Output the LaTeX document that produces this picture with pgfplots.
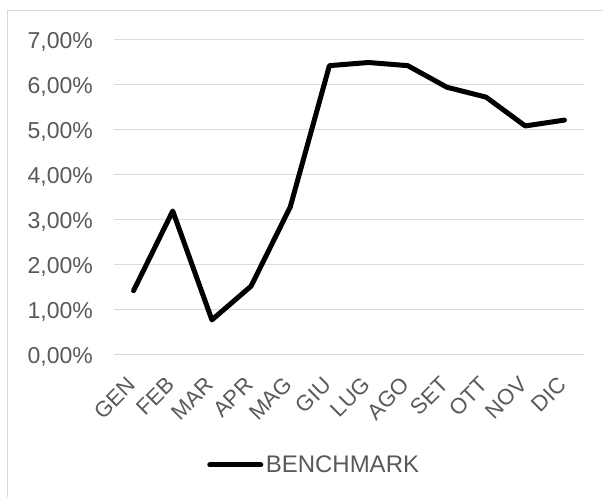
\documentclass[border=0pt]{standalone}
\usepackage{fontspec}
\setmainfont{Liberation Sans}
\usepackage{pgfplots}
\pgfplotsset{compat=1.18}
\definecolor{txt}{RGB}{89,89,89}
\definecolor{grd}{RGB}{217,217,217}
\begin{document}
\begin{tikzpicture}
\useasboundingbox (0,0) rectangle (603pt,497pt);
\draw[grd, line width=1pt] (7pt,0pt) -- (7pt,486pt) -- (603pt,486pt);
\begin{axis}[
  at={(114pt,142pt)}, anchor=south west,
  scale only axis, width=470pt, height=315pt,
  xmin=-0.5, xmax=11.5, ymin=0, ymax=7,
  axis line style={draw=none},
  major tick length=0pt,
  xtick={0,...,11},
  xticklabels={GEN,FEB,MAR,APR,MAG,GIU,LUG,AGO,SET,OTT,NOV,DIC},
  ytick={0,1,2,3,4,5,6,7},
  yticklabels={0{,}00\%,1{,}00\%,2{,}00\%,3{,}00\%,4{,}00\%,5{,}00\%,6{,}00\%,7{,}00\%},
  ymajorgrids, major grid style={grd, line width=1pt},
  tick label style={text=txt, inner sep=0pt},
  yticklabel style={font=\fontsize{23}{27}\selectfont, anchor=base east, xshift=-21pt, yshift=-8.2pt},
  xticklabel style={font=\fontsize{22}{26}\selectfont, anchor=east, xshift=-2pt, yshift=-26pt, rotate=45},
  legend style={draw=none, fill=none, at={(0.198,-0.349)}, anchor=west, inner sep=0pt,
    font=\fontsize{24}{28}\selectfont, text=txt,
    nodes={inner xsep=2.5pt, inner ysep=0pt}},
  legend image code/.code={\draw[line width=5pt, line cap=round, black] (2.5pt,0pt) -- (53.5pt,0pt);},
]
\addplot[black, line width=5pt, line join=round, line cap=round] coordinates {
 (0,1.43) (1,3.20) (2,0.78) (3,1.53) (4,3.29) (5,6.43)
 (6,6.50) (7,6.43) (8,5.95) (9,5.73) (10,5.09) (11,5.22)};
\addlegendentry{BENCHMARK}
\end{axis}
\end{tikzpicture}
\end{document}
